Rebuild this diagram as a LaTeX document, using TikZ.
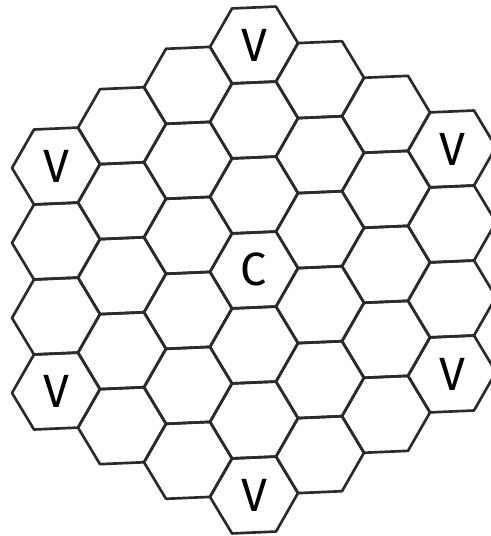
\documentclass[tikz,border=0pt]{standalone}
\usepackage{fontspec}
\setmainfont{Fira Sans}
\definecolor{CellEdge}{HTML}{2B2B2B}

\begin{document}
\begin{tikzpicture}[x=0.75pt,y=-0.75pt]
  \useasboundingbox (0,0) rectangle (491,536);
  \tikzset{cell/.style={draw=CellEdge,line width=2pt,line join=round},
           celltext/.style={font=\fontsize{35}{35}\selectfont,inner sep=0pt}}
  % hex board, radius 3, columns q, rows r
  \foreach \q in {-3,...,3} {
    \pgfmathtruncatemacro{\rlo}{max(-3,-3-\q)}
    \pgfmathtruncatemacro{\rhi}{min(3,3-\q)}
    \foreach \r in {\rlo,...,\rhi} {
      \pgfmathsetmacro{\cx}{254+66*\q}
      \pgfmathsetmacro{\cy}{270+75*(\r+\q/2)-2.85*\q}
      \draw[cell] (\cx-44,\cy+1.9) -- (\cx-22,\cy-36.55) -- (\cx+22,\cy-38.45)
        -- (\cx+44,\cy-1.9) -- (\cx+22,\cy+36.55) -- (\cx-22,\cy+38.45) -- cycle;
    }
  }
  % labelled cells
  \foreach \name/\x/\y/\txt in {vtop/254/45/V,vleftup/56/166/V,vleftdown/56/391/V,
      vrightup/452/149/V,vrightdown/452/374/V,vbottom/254/495/V,centre/254/269/C} {
    \node[celltext] (\name) at (\x,\y) {\txt};
  }
\end{tikzpicture}
\end{document}
